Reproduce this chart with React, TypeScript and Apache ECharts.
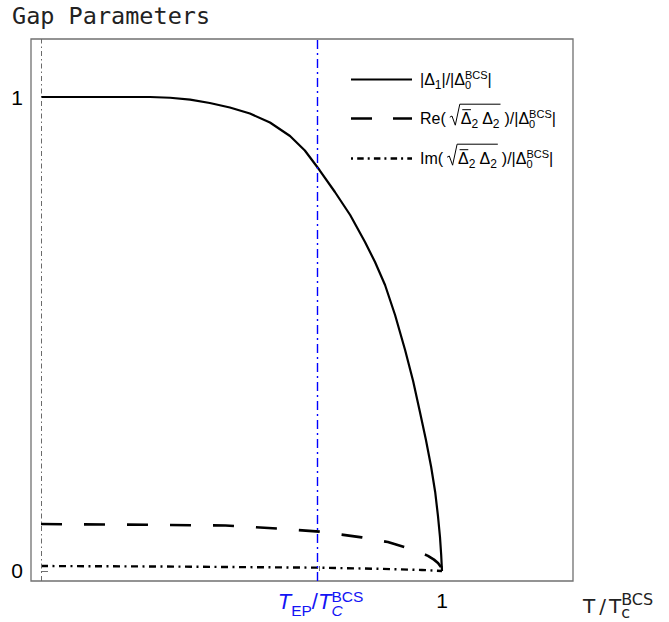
import React, { useEffect, useRef } from "react";
import * as echarts from "echarts";

// ---------- data ----------
const CHART_TITLE = "Gap Parameters";
const T_EP = 0.6945;
const X_MIN = -0.0249;
const X_MAX = 1.3267;
const Y_MIN = -0.0211;
const Y_MAX = 1.1224;
const xTickValues = [T_EP, 1];
const xLabelValues = [1];
const yTickValues = [0, 1];
const yLabelValues = [0, 1];

// |Δ1| / |Δ0^BCS|
const delta1X = [0, 0.147, 0.272, 0.322, 0.372, 0.421, 0.471, 0.521, 0.571, 0.621, 0.658, 0.6945, 0.733, 0.771, 0.808, 0.833, 0.858, 0.883, 0.908, 0.928, 0.945, 0.96, 0.973, 0.983, 0.99, 0.995, 0.998, 1];
const delta1Y = [1, 1, 1, 0.9985, 0.9945, 0.9873, 0.9778, 0.9652, 0.9462, 0.9177, 0.8871, 0.846, 0.7996, 0.7511, 0.6941, 0.6519, 0.6034, 0.5401, 0.4662, 0.4008, 0.3354, 0.2764, 0.2194, 0.1667, 0.116, 0.0717, 0.0338, 0];

// Re(sqrt(conj(Δ2) Δ2)) / |Δ0^BCS|
const reX = [0, 0.2, 0.46, 0.6, 0.6945, 0.8, 0.865, 0.915, 0.945, 0.965, 0.98, 0.99, 0.997, 1];
const reY = [0.099, 0.098, 0.096, 0.089, 0.083, 0.071, 0.061, 0.048, 0.039, 0.032, 0.024, 0.017, 0.009, 0];

// Im(sqrt(conj(Δ2) Δ2)) / |Δ0^BCS|
const imX = [0, 0.3, 0.6945, 0.85, 0.95, 1];
const imY = [0.0105, 0.0095, 0.007, 0.0045, 0.0022, 0];

const pairs = (xs: number[], ys: number[]) => xs.map((x, i) => [x, ys[i]]);

// ---------- text helpers ----------
const SANS = "Liberation Sans";
let _ctx: CanvasRenderingContext2D | null = null;
function textWidth(t: string, size: number, family: string, italic?: boolean) {
  if (!_ctx) _ctx = document.createElement("canvas").getContext("2d");
  _ctx!.font = `${italic ? "italic " : ""}${size}px "${family}"`;
  return _ctx!.measureText(t).width;
}

type Tok = {
  t?: string; size: number; dy?: number; it?: boolean; gap?: number;
  sub?: string; sup?: string; subDy?: number; supDy?: number; subIt?: boolean; tag?: string;
};

function layoutMath(x0: number, base: number, toks: Tok[], family: string, color: string) {
  const els: any[] = [];
  const marks: Record<string, { x: number; w: number }> = {};
  let x = x0;
  const mk = (xx: number, b: number, t: string, size: number, it?: boolean) => ({
    type: "text",
    x: xx,
    y: b - 0.3465 * size,
    silent: true,
    style: {
      text: t, fontSize: size, fontFamily: family, fontStyle: it ? "italic" : "normal",
      fill: color, align: "left", verticalAlign: "middle",
    },
  });
  for (const k of toks) {
    x += k.gap || 0;
    if (k.t !== undefined) {
      const w = textWidth(k.t, k.size, family, k.it);
      els.push(mk(x, base + (k.dy || 0), k.t, k.size, k.it));
      if (k.tag) marks[k.tag] = { x, w };
      x += w;
    } else {
      let w = 0;
      if (k.sub) {
        w = Math.max(w, textWidth(k.sub, k.size, family, k.subIt));
        els.push(mk(x, base + (k.subDy || 0), k.sub, k.size, k.subIt));
      }
      if (k.sup) {
        w = Math.max(w, textWidth(k.sup, k.size, family, false));
        els.push(mk(x, base + (k.supDy || 0), k.sup, k.size, false));
      }
      x += w;
    }
  }
  return { els, marks, width: x - x0 };
}

function sqrtRow(prefix: string, x0: number, base: number) {
  const toks: Tok[] = [
    { t: prefix, size: 16, tag: "pre" },
    { t: "Δ", size: 16, gap: 15, tag: "conj" },
    { t: "2", size: 12, dy: 3.5 },
    { t: "Δ", size: 16, gap: 4 },
    { t: "2", size: 12, dy: 3.5, tag: "rEnd" },
    { t: ")/|Δ", size: 16, gap: 5 },
    { sub: "0", sup: "BCS", size: 11, subDy: 3.5, supDy: -6 },
    { t: "|", size: 16 },
  ];
  const r = layoutMath(x0, base, toks, SANS, "#000");
  const pre = r.marks.pre;
  const conj = r.marks.conj;
  const rEnd = r.marks.rEnd;
  const xr = pre.x + pre.w + 4;
  const top = base - 20;
  r.els.push({
    type: "polyline",
    silent: true,
    shape: {
      points: [
        [xr, base - 7], [xr + 2.2, base - 8.2], [xr + 5.5, base + 1],
        [xr + 10, top], [rEnd.x + rEnd.w + 1, top],
      ],
    },
    style: { stroke: "#000", lineWidth: 1, fill: null },
  });
  r.els.push({
    type: "line",
    silent: true,
    shape: { x1: conj.x + 1.5, y1: base - 14.5, x2: conj.x + conj.w - 0.5, y2: base - 14.5 },
    style: { stroke: "#000", lineWidth: 1 },
  });
  return r.els;
}

export default function App() {
  const ref = useRef<HTMLDivElement>(null);

  useEffect(() => {
    document.body.style.margin = "0";
    const chart = echarts.init(ref.current!, undefined, { renderer: "svg" });
    const frame = "#707070";
    chart.setOption({
      animation: false,
      backgroundColor: "#ffffff",
      grid: {
        left: 31, top: 39, width: 542, height: 542,
        show: true, borderColor: frame, borderWidth: 1.3, backgroundColor: "transparent",
      },
      xAxis: {
        type: "value",
        min: X_MIN,
        max: X_MAX,
        axisLine: { show: false },
        splitLine: { show: false },
        axisTick: { show: true, inside: true, length: 5, customValues: xTickValues, lineStyle: { color: frame, width: 1 } },
        axisLabel: {
          customValues: xLabelValues,
          formatter: (v: number) => (Math.abs(v - 1) < 1e-9 ? "1" : ""),
          fontSize: 21, fontFamily: SANS, color: "#000", margin: 9,
        },
      },
      yAxis: {
        type: "value",
        min: Y_MIN,
        max: Y_MAX,
        axisLine: { show: false },
        splitLine: { show: false },
        axisTick: { show: true, inside: true, length: 7, customValues: yTickValues, lineStyle: { color: frame, width: 1 } },
        axisLabel: {
          customValues: yLabelValues,
          formatter: (v: number) => String(Math.round(v)),
          fontSize: 21, fontFamily: SANS, color: "#000", margin: 8,
        },
      },
      series: [
        {
          type: "line",
          data: [],
          silent: true,
          markLine: {
            silent: true,
            symbol: ["none", "none"],
            label: { show: false },
            data: [
              { xAxis: 0, lineStyle: { color: "#6a6a6a", width: 1, type: [5, 3, 1.5, 3] } },
              { xAxis: T_EP, lineStyle: { color: "#0000ff", width: 1.4, type: [9, 4, 2, 4] } },
            ],
          },
        },
        {
          type: "line",
          data: pairs(delta1X, delta1Y),
          showSymbol: false,
          smooth: false,
          lineStyle: { color: "#000", width: 2.2, join: "round" },
        },
        {
          type: "line",
          data: pairs(reX, reY),
          showSymbol: false,
          smooth: false,
          lineStyle: { color: "#000", width: 2.6, type: [21, 22] },
        },
        {
          type: "line",
          data: pairs(imX, imY),
          showSymbol: false,
          smooth: false,
          lineStyle: { color: "#000", width: 2.4, type: [7, 4.5, 2, 4.5] },
        },
      ],
    });

    // graphic overlay: title, legend, composite axis labels
    const els: any[] = [];
    els.push({
      type: "text", x: 12, y: 16, silent: true,
      style: { text: CHART_TITLE, fontSize: 23.5, fontFamily: "DejaVu Sans Mono", fill: "#222", align: "left", verticalAlign: "middle" },
    });

    // legend
    const lx1 = 351, lx2 = 412, tx = 420;
    const rows = [79.5, 118.5, 158.5];
    els.push({ type: "line", silent: true, shape: { x1: lx1, y1: rows[0], x2: lx2, y2: rows[0] }, style: { stroke: "#000", lineWidth: 2.2 } });
    els.push({ type: "line", silent: true, shape: { x1: lx1, y1: rows[1], x2: lx2, y2: rows[1] }, style: { stroke: "#000", lineWidth: 2.6, lineDash: [21, 21] } });
    els.push({ type: "line", silent: true, shape: { x1: lx1, y1: rows[2], x2: lx2, y2: rows[2] }, style: { stroke: "#000", lineWidth: 2.4, lineDash: [2, 4.2, 6.5, 4] } });
    const row1 = layoutMath(tx, rows[0] + 5.7, [
      { t: "|Δ", size: 16 },
      { t: "1", size: 12, dy: 3.5 },
      { t: "|/|Δ", size: 16 },
      { sub: "0", sup: "BCS", size: 11, subDy: 3.5, supDy: -6 },
      { t: "|", size: 16 },
    ], SANS, "#000");
    els.push(...row1.els);
    els.push(...sqrtRow("Re(", tx, rows[1] + 5.7));
    els.push(...sqrtRow("Im(", tx, rows[2] + 5.7));

    // T_EP / T_C^BCS label under the axis
    const tepToks: Tok[] = [
      { t: "T", size: 22, it: true },
      { t: "EP", size: 15.5, dy: 6 },
      { t: "/", size: 22 },
      { t: "T", size: 22, it: true },
      { sub: "C", sup: "BCS", size: 15.5, subDy: 6, supDy: -8, subIt: true },
    ];
    const blue = "#1414f5";
    const px = chart.convertToPixel({ xAxisIndex: 0 }, T_EP) as number;
    const dry = layoutMath(0, 0, tepToks, SANS, blue);
    const tep = layoutMath(px - dry.width / 2 + 1, 609.5, tepToks, SANS, blue);
    els.push(...tep.els);

    // axis title T / T_c^BCS
    const ttl = layoutMath(583, 613, [
      { t: "T", size: 20 },
      { t: "/", size: 20, gap: 4 },
      { t: "T", size: 20, gap: 3 },
      { sub: "c", sup: "BCS", size: 16, subDy: 5, supDy: -8 },
    ], "DejaVu Sans", "#222");
    els.push(...ttl.els);

    chart.setOption({ graphic: { elements: els } });

    return () => chart.dispose();
  }, []);

  return (
    <div
      ref={ref}
      style={{ position: "absolute", left: 0, top: 0, width: 669, height: 622, background: "#fff" }}
    />
  );
}
